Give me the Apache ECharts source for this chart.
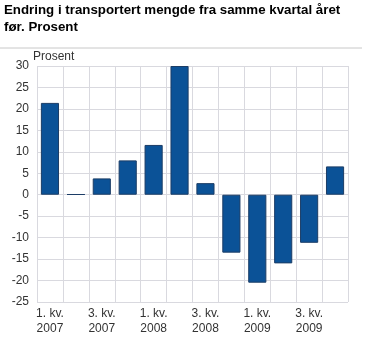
<!DOCTYPE html>
<html><head><meta charset="utf-8">
<script src="https://cdn.jsdelivr.net/npm/echarts@6/dist/echarts.min.js"></script>
<style>html,body{margin:0;padding:0;background:#fff}#c{width:365px;height:350px}</style>
</head><body><div id="c"></div>
<script>
var categories = ["1. kv.\n2007","2. kv.\n2007","3. kv.\n2007","4. kv.\n2007","1. kv.\n2008","2. kv.\n2008","3. kv.\n2008","4. kv.\n2008","1. kv.\n2009","2. kv.\n2009","3. kv.\n2009","4. kv.\n2009"];
var values = [21.4, 0.1, 3.8, 8.0, 11.6, 30, 2.7, -13.5, -20.5, -16.0, -11.2, 6.6];
var titleText = "Endring i transportert mengde fra samme kvartal året\nfør. Prosent";
var unitLabel = "Prosent";
var chart = echarts.init(document.getElementById('c'), null, {renderer:'canvas'});
chart.setOption({
  animation:false,
  title:{text:titleText,left:4,top:2,padding:0,textStyle:{fontFamily:'Liberation Sans',fontSize:13.3,fontWeight:'bold',color:'#000',lineHeight:17}},
  graphic:[
    {type:'line',shape:{x1:0,y1:48,x2:362,y2:48},style:{stroke:'#c8c8c8',lineWidth:1}},
    {type:'text',left:33,top:51,style:{text:unitLabel,font:'12px "Liberation Sans"',fill:'#333'}}
  ],
  grid:{left:37,right:17,top:66,bottom:48,containLabel:false},
  xAxis:{type:'category',data:categories,
    axisLine:{show:false},axisTick:{show:false},
    splitLine:{show:true,interval:0,lineStyle:{color:'#d9d9df',width:1}},
    axisLabel:{interval:1,fontFamily:'Liberation Sans',fontSize:12,color:'#333',lineHeight:15,margin:4}},
  yAxis:{type:'value',min:-25,max:30,interval:5,
    axisLine:{show:false},axisTick:{show:false},
    splitLine:{lineStyle:{color:'#d9d9df',width:1}},
    axisLabel:{fontFamily:'Liberation Sans',fontSize:12,color:'#333',margin:8}},
  series:[{type:'bar',data:values,barCategoryGap:'30%',
    itemStyle:{color:'#0b5297',borderColor:'#1c3d66',borderWidth:1}}]
});
</script></body></html>
